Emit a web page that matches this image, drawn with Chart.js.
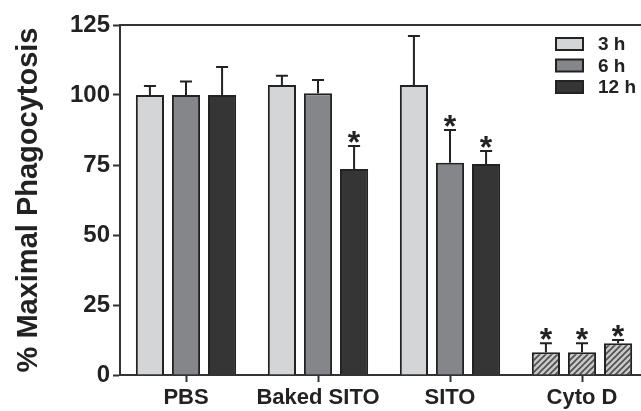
<!DOCTYPE html>
<html>
<head>
<meta charset="utf-8">
<script src="https://cdn.jsdelivr.net/npm/chart.js@4.4.1/dist/chart.umd.min.js"></script>
<style>
  html, body { margin: 0; padding: 0; background: #fff; overflow: hidden; }
  canvas { display: block; }
</style>
</head>
<body>
<canvas id="phago" width="660" height="411"></canvas>
<script>
// groups and values (% maximal phagocytosis)
const groups = ['PBS', 'Baked SITO', 'SITO', 'Cyto D'];
const h3 = [100, 103.6, 103.6, 8.1];
const h6 = [100, 100.6, 75.8, 8.1];
const h12 = [100, 73.6, 75.4, 11.3];
// upper error (SEM)
const h3Err = [3.2, 3.3, 17.5, 3.2];
const h6Err = [4.8, 4.8, 11.7, 3.2];
const h12Err = [10, 8.2, 4.6, 1.2];
// significance marks
const h3Star = [false, false, false, true];
const h6Star = [false, false, true, true];
const h12Star = [false, true, true, true];
const yTicks = [0, 25, 50, 75, 100, 125];

const FONT = '"Liberation Sans", Arial, sans-serif';
const INK = '#222';

// diagonal hatch for the Cyto D bars
function hatch() {
    const c = document.createElement('canvas');
    c.width = 6; c.height = 6;
    const g = c.getContext('2d');
    g.fillStyle = '#c8c8c8';
    g.fillRect(0, 0, 6, 6);
    g.strokeStyle = '#4d4d4d';
    g.lineWidth = 1.6;
    g.beginPath();
    g.moveTo(0, 6); g.lineTo(6, 0);
    g.moveTo(-1, 1); g.lineTo(1, -1);
    g.moveTo(5, 7); g.lineTo(7, 5);
    g.stroke();
    return g.createPattern(c, 'repeat');
}
const stripes = hatch();

function fills(base) {
    // last group (Cyto D) is hatched
    return groups.map((g, i) => i === groups.length - 1 ? stripes : base);
}

function makeSet(label, data, err, star, color) {
    return {
        label: label,
        data: data,
        errors: err,
        stars: star,
        legendColor: color,
        backgroundColor: fills(color),
        borderColor: INK,
        borderWidth: 2,
        borderSkipped: 'bottom'
    };
}

// error bars, asterisks, top frame line and legend
const extras = {
    id: 'extras',
    afterDatasetsDraw(chart) {
        const ctx = chart.ctx;
        const y = chart.scales.y;
        ctx.save();
        chart.data.datasets.forEach((ds, di) => {
            chart.getDatasetMeta(di).data.forEach((bar, i) => {
                const top = y.getPixelForValue(ds.data[i] + ds.errors[i]);
                ctx.strokeStyle = INK;
                ctx.lineWidth = 2;
                ctx.beginPath();
                ctx.moveTo(bar.x, bar.y);
                ctx.lineTo(bar.x, top);
                ctx.moveTo(bar.x - 6, top);
                ctx.lineTo(bar.x + 6, top);
                ctx.stroke();
                if (ds.stars[i]) {
                    ctx.fillStyle = INK;
                    ctx.font = 'bold 32px ' + FONT;
                    ctx.textAlign = 'center';
                    ctx.textBaseline = 'alphabetic';
                    ctx.fillText('*', bar.x, top + 7);
                }
            });
        });
        ctx.restore();
    },
    afterDraw(chart) {
        const ctx = chart.ctx;
        const a = chart.chartArea;
        ctx.save();
        // top frame
        ctx.strokeStyle = '#333';
        ctx.lineWidth = 2;
        ctx.beginPath();
        ctx.moveTo(a.left, a.top);
        ctx.lineTo(a.right, a.top);
        ctx.stroke();
        // legend
        ctx.font = 'bold 19px ' + FONT;
        ctx.textBaseline = 'middle';
        ctx.textAlign = 'left';
        chart.data.datasets.forEach((ds, di) => {
            const cy = a.top + 19 + di * 21.5;
            const bx = a.right - 92;
            ctx.fillStyle = ds.legendColor;
            ctx.fillRect(bx, cy - 6, 27, 12);
            ctx.strokeStyle = INK;
            ctx.lineWidth = 2;
            ctx.strokeRect(bx, cy - 6, 27, 12);
            ctx.fillStyle = INK;
            ctx.fillText(ds.label, bx + 42, cy + 1);
        });
        ctx.restore();
    }
};

new Chart(document.getElementById('phago'), {
    type: 'bar',
    data: {
        labels: groups,
        datasets: [
            makeSet('3 h', h3, h3Err, h3Star, '#d4d5d7'),
            makeSet('6 h', h6, h6Err, h6Star, '#85868a'),
            makeSet('12 h', h12, h12Err, h12Star, '#353535')
        ]
    },
    options: {
        responsive: false,
        maintainAspectRatio: false,
        animation: false,
        layout: { padding: { top: 25, right: 12, left: 0, bottom: 0 } },
        datasets: { bar: { categoryPercentage: 0.82, barPercentage: 0.78 } },
        plugins: { legend: { display: false }, tooltip: { enabled: false } },
        scales: {
            x: {
                offset: true,
                afterFit(s) { s.height = 36; },
                grid: { offset: false, drawOnChartArea: false, drawTicks: true, tickLength: 7, tickWidth: 2, tickColor: '#333' },
                border: { color: '#333', width: 2 },
                ticks: { color: INK, padding: 3, font: { family: FONT, size: 22, weight: 'bold' } }
            },
            y: {
                min: 0,
                max: 125,
                afterFit(s) { s.width = 120; },
                afterBuildTicks(s) { s.ticks = yTicks.map(v => ({ value: v })); },
                grid: { drawOnChartArea: false, drawTicks: true, tickLength: 7, tickWidth: 2, tickColor: '#333' },
                border: { color: '#333', width: 2 },
                ticks: { color: INK, padding: 3, font: { family: FONT, size: 24, weight: 'bold' } },
                title: {
                    display: true,
                    text: '% Maximal Phagocytosis',
                    color: INK,
                    padding: { top: 12, bottom: 0 },
                    font: { family: FONT, size: 29, weight: 'bold' }
                }
            }
        }
    },
    plugins: [extras]
});
</script>
</body>
</html>
